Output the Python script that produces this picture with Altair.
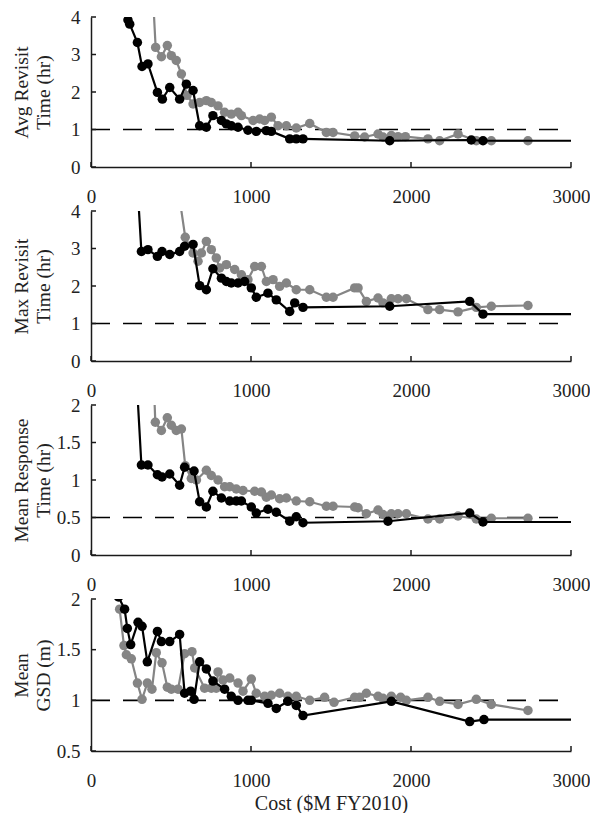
import altair as alt
import pandas as pd

# ---------------- data ----------------
XTICKS = [0, 1000, 2000, 3000]
REF_END = 2920

# Panel 1: Avg Revisit Time (hr)
AVG_BX = [231, 242, 290, 319, 356, 415, 446, 492, 554, 596, 638, 679, 721, 762, 815, 846, 877, 919, 981, 1033, 1096, 1127, 1242, 1283, 1325, 1867, 2377, 2450, 3000]
AVG_BY = [3.92, 3.81, 3.32, 2.68, 2.75, 1.99, 1.81, 2.12, 1.81, 2.21, 2.04, 1.10, 1.06, 1.37, 1.24, 1.15, 1.10, 1.06, 0.98, 0.95, 0.97, 0.95, 0.75, 0.75, 0.75, 0.70, 0.72, 0.70, 0.70]
AVG_GX = [382, 404, 440, 477, 502, 533, 565, 600, 638, 679, 721, 752, 794, 835, 877, 919, 940, 1013, 1054, 1085, 1127, 1169, 1221, 1283, 1367, 1471, 1513, 1648, 1710, 1794, 1825, 1877, 1919, 1965, 2106, 2179, 2294, 2408, 2502, 2731]
AVG_GY = [5.0, 3.19, 2.94, 3.24, 2.97, 2.84, 2.48, 1.91, 1.68, 1.72, 1.77, 1.72, 1.63, 1.46, 1.41, 1.46, 1.37, 1.24, 1.28, 1.24, 1.33, 1.10, 1.10, 1.04, 1.16, 0.92, 0.92, 0.83, 0.80, 0.88, 0.80, 0.84, 0.81, 0.81, 0.75, 0.70, 0.88, 0.70, 0.70, 0.70]

# Panel 2: Max Revisit Time (hr)
MAX_BX = [286, 315, 356, 415, 444, 492, 554, 585, 638, 679, 721, 762, 815, 846, 877, 919, 960, 1002, 1033, 1106, 1158, 1242, 1273, 1325, 1867, 2367, 2450, 3000]
MAX_BY = [5.0, 2.92, 2.97, 2.79, 2.92, 2.84, 2.92, 3.06, 3.11, 2.01, 1.90, 2.46, 2.21, 2.12, 2.08, 2.08, 2.12, 1.95, 1.70, 1.81, 1.63, 1.32, 1.55, 1.43, 1.46, 1.59, 1.25, 1.25]
MAX_GX = [531, 589, 638, 669, 690, 721, 752, 783, 804, 846, 898, 940, 981, 1023, 1065, 1096, 1138, 1179, 1221, 1283, 1367, 1471, 1513, 1648, 1669, 1721, 1794, 1825, 1877, 1919, 1971, 2106, 2179, 2294, 2408, 2502, 2731]
MAX_GY = [5.0, 3.30, 2.88, 2.66, 2.88, 3.19, 2.97, 2.75, 2.48, 2.57, 2.44, 2.30, 2.17, 2.52, 2.52, 2.12, 2.17, 1.99, 2.08, 1.90, 1.90, 1.70, 1.70, 1.95, 1.95, 1.59, 1.68, 1.55, 1.66, 1.66, 1.66, 1.37, 1.37, 1.31, 1.43, 1.46, 1.48]

# Panel 3: Mean Response Time (hr)
RESP_BX = [281, 315, 356, 415, 444, 492, 554, 585, 644, 679, 721, 762, 815, 867, 908, 940, 1002, 1033, 1106, 1158, 1242, 1283, 1325, 1856, 2367, 2450, 3000]
RESP_BY = [2.5, 1.20, 1.20, 1.07, 1.04, 1.08, 0.93, 1.17, 1.12, 0.71, 0.64, 0.85, 0.76, 0.72, 0.72, 0.72, 0.64, 0.56, 0.61, 0.57, 0.45, 0.51, 0.43, 0.45, 0.56, 0.44, 0.44]
RESP_GX = [389, 402, 440, 477, 502, 533, 565, 589, 627, 659, 721, 752, 794, 835, 867, 908, 950, 1023, 1065, 1096, 1127, 1179, 1221, 1283, 1367, 1471, 1513, 1648, 1669, 1721, 1794, 1825, 1877, 1919, 1971, 2106, 2179, 2294, 2408, 2502, 2731]
RESP_GY = [2.5, 1.77, 1.66, 1.83, 1.73, 1.66, 1.68, 1.19, 1.02, 1.00, 1.13, 1.06, 1.00, 0.91, 0.91, 0.88, 0.86, 0.85, 0.84, 0.77, 0.80, 0.75, 0.76, 0.72, 0.71, 0.65, 0.65, 0.64, 0.63, 0.55, 0.60, 0.54, 0.55, 0.55, 0.55, 0.48, 0.48, 0.52, 0.48, 0.49, 0.49]

# Panel 4: Mean GSD (m)
GSD_BX = [172, 210, 227, 248, 294, 319, 352, 415, 440, 492, 554, 585, 623, 644, 679, 721, 762, 835, 877, 919, 981, 1002, 1106, 1158, 1230, 1283, 1325, 1877, 2367, 2456, 3000]
GSD_BY = [2.02, 1.90, 1.71, 1.55, 1.77, 1.73, 1.38, 1.68, 1.58, 1.58, 1.65, 1.07, 1.09, 1.01, 1.38, 1.31, 1.19, 1.11, 1.04, 1.00, 1.00, 1.00, 0.97, 0.92, 0.99, 0.95, 0.85, 0.99, 0.79, 0.81, 0.81]
GSD_GX = [179, 206, 221, 252, 290, 319, 352, 381, 408, 444, 477, 502, 544, 585, 631, 648, 710, 752, 783, 794, 825, 867, 919, 950, 1002, 1033, 1085, 1127, 1179, 1231, 1283, 1367, 1460, 1519, 1648, 1679, 1721, 1794, 1825, 1877, 1935, 1971, 2106, 2179, 2294, 2408, 2502, 2731]
GSD_GY = [1.90, 1.54, 1.45, 1.41, 1.17, 1.01, 1.17, 1.11, 1.47, 1.37, 1.13, 1.11, 1.11, 1.46, 1.48, 1.32, 1.12, 1.12, 1.12, 1.28, 1.20, 1.22, 1.17, 1.09, 1.21, 1.07, 1.04, 1.05, 1.07, 1.04, 1.04, 1.00, 1.03, 0.98, 1.03, 1.03, 1.07, 1.04, 1.02, 1.04, 1.03, 1.00, 1.03, 0.99, 0.96, 1.01, 0.96, 0.90]

PANELS = [
    (["Avg Revisit", "Time (hr)"], AVG_BX, AVG_BY, AVG_GX, AVG_GY, [0, 4], [0, 1, 2, 3, 4], 1.0, 150),
    (["Max Revisit", "Time (hr)"], MAX_BX, MAX_BY, MAX_GX, MAX_GY, [0, 4], [0, 1, 2, 3, 4], 1.0, 150),
    (["Mean Response", "Time (hr)"], RESP_BX, RESP_BY, RESP_GX, RESP_GY, [0, 2], [0, 0.5, 1, 1.5, 2], 0.5, 150),
    (["Mean", "GSD (m)"], GSD_BX, GSD_BY, GSD_GX, GSD_GY, [0.5, 2], [0.5, 1, 1.5, 2], 1.0, 152),
]
X_TITLE = "Cost ($M FY2010)"

BLACK = "#000000"
GRAY = "#858585"
AXIS_COLOR = "#1a1a1a"
FONT = "Liberation Serif"


def build_panel(title, bx, by, gx, gy, ydom, yticks, ref, height, last):
    xaxis_kw = dict(values=XTICKS, format="d", ticks=False, tickSize=0, grid=False,
                    labelPadding=20, labelFlush=False)
    if last:
        xaxis_kw.update(title=X_TITLE, titlePadding=3, titleFontSize=20)
    else:
        xaxis_kw.update(title=None)
    x_enc = alt.X("x:Q", scale=alt.Scale(domain=[0, 3000], nice=False, zero=False),
                  axis=alt.Axis(**xaxis_kw))
    y_enc = alt.Y("y:Q", scale=alt.Scale(domain=ydom, nice=False, zero=False),
                  axis=alt.Axis(values=yticks, format="~g", ticks=False, tickSize=0, grid=False,
                                labelPadding=11, title=title, titleAngle=-90, titleX=-60,
                                titleY=height / 2, titleAlign="center", titleBaseline="bottom",
                                titleLineHeight=22, titleFontSize=19.5))

    bdf = pd.DataFrame({"x": bx, "y": by})
    gdf = pd.DataFrame({"x": gx, "y": gy})
    refdf = pd.DataFrame({"x": [0], "x2": [REF_END], "y": [ref]})
    xtdf = pd.DataFrame({"x": XTICKS})
    ytdf = pd.DataFrame({"y": yticks})

    ref_rule = alt.Chart(refdf).mark_rule(color=BLACK, strokeWidth=1.6, strokeDash=[19, 13]).encode(
        x=x_enc, x2="x2:Q", y=y_enc)
    g_line = alt.Chart(gdf).mark_line(color=GRAY, strokeWidth=2.2, clip=True).encode(x=x_enc, y=y_enc)
    g_pts = alt.Chart(gdf).mark_circle(color=GRAY, size=90, opacity=1, clip=True).encode(x=x_enc, y=y_enc)
    b_line = alt.Chart(bdf).mark_line(color=BLACK, strokeWidth=2.2, clip=True).encode(x=x_enc, y=y_enc)
    b_pts = alt.Chart(bdf).transform_filter("datum.x < 3000").mark_circle(
        color=BLACK, size=90, opacity=1, clip=True).encode(x=x_enc, y=y_enc)
    xt = alt.Chart(xtdf).mark_rule(color=AXIS_COLOR, strokeWidth=1.5).encode(
        x=x_enc, y=alt.value(height), y2=alt.value(height - 5))
    yt = alt.Chart(ytdf).mark_rule(color=AXIS_COLOR, strokeWidth=1.5).encode(
        y=y_enc, x=alt.value(0), x2=alt.value(5))
    return alt.layer(ref_rule, g_line, g_pts, b_line, b_pts, xt, yt).properties(width=480, height=height)


panels = [build_panel(*p, last=(i == len(PANELS) - 1)) for i, p in enumerate(PANELS)]

chart = alt.vconcat(*panels, spacing=44, bounds="flush").properties(
    padding={"left": 3, "top": 0, "right": 0, "bottom": 0}
).configure_view(stroke=None).configure_axis(
    labelFont=FONT, labelFontSize=19, labelColor="#222222",
    titleFont=FONT, titleFontSize=19.5, titleFontWeight="normal", titleColor="#222222",
    domainColor=AXIS_COLOR, domainWidth=1.5,
)

chart.save("out.html", embed_options={"renderer": "svg", "actions": False})
